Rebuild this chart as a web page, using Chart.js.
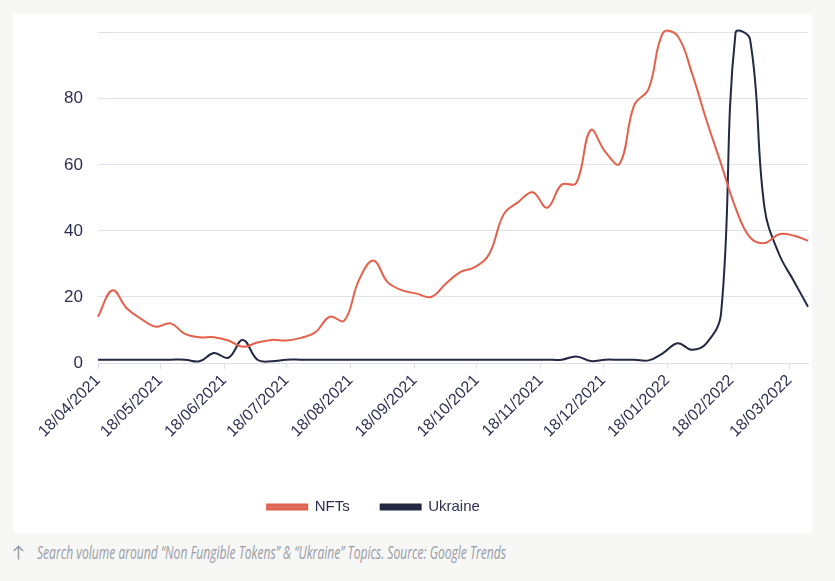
<!DOCTYPE html>
<html>
<head>
<meta charset="utf-8">
<script src="https://cdn.jsdelivr.net/npm/chart.js@4/dist/chart.umd.min.js"></script>
<style>
  html, body { margin: 0; padding: 0; }
  body { width: 835px; height: 581px; background: #f7f7f5; position: relative; overflow: hidden; }
  #card { position: absolute; left: 13px; top: 14px; width: 799px; height: 519px; background: #ffffff; }
  #card canvas { display: block; }
  #arrow { position: absolute; left: 13px; top: 545px; }
  #cap { position: absolute; left: 37px; top: 540px; font-family: "Open Sans", sans-serif; font-style: italic;
         font-size: 18.5px; color: #979ca7; white-space: nowrap; transform-origin: 0 50%; line-height: 24px; }
</style>
</head>
<body>
<div id="card"><canvas id="c" width="799" height="519"></canvas></div>
<svg id="arrow" width="11" height="15" viewBox="0 0 11 15">
  <path d="M5.5 14.5 V1.3 M0.8 6 L5.5 1.3 L10.2 6" fill="none" stroke="#979ca7" stroke-width="1.5"/>
</svg>
<div id="cap">Search volume around “Non Fungible Tokens” &amp; “Ukraine” Topics. Source: Google Trends</div>
<script>
// ---- data (weekly Google Trends values, weeks starting 18/04/2021) ----
const startDate = '18/04/2021';
const seriesNames = ['NFTs', 'Ukraine'];
const nfts = [14, 22, 16.5, 13.3, 11, 12, 8.8, 7.8, 7.8, 6.8,
              4.9, 6.2, 7, 6.8, 7.6, 9.3, 14, 12.8, 25, 31,
              24.4, 22, 21, 20, 24, 27.5, 29, 33, 45, 48.7,
              51.7, 47, 54, 54.4, 70.5, 64, 60.3, 78, 83, 100,
              99, 87.6, 73.4, 60.3, 47, 38, 36.3, 39, 38.6, 37];
const ukraine = [1, 1, 1, 1, 1, 1, 1, 0.5, 3, 1.6,
                 7, 1, 0.5, 1, 1, 1, 1, 1, 1, 1,
                 1, 1, 1, 1, 1, 1, 1, 1, 1, 1,
                 1, 1, 1, 2, 0.6, 1, 1, 1, 0.8, 3,
                 6, 4, 6, 15, 100, 98, 47, 33, 25, 17];
const tickLabels = ['18/04/2021', '18/05/2021', '18/06/2021', '18/07/2021', '18/08/2021', '18/09/2021',
                    '18/10/2021', '18/11/2021', '18/12/2021', '18/01/2022', '18/02/2022', '18/03/2022'];
const yTicks = [0, 20, 40, 60, 80, 100];

// ---- helpers ----
function parseDay(s) { const [d, m, y] = s.split('/').map(Number); return Date.UTC(y, m - 1, d) / 86400000; }
const day0 = parseDay(startDate);
const tickDays = tickLabels.map(l => parseDay(l) - day0);
const labelByDay = {}; tickDays.forEach((d, i) => labelByDay[d] = tickLabels[i]);
const toPoints = arr => arr.map((v, i) => ({ x: i * 7, y: v }));

const NAVY = '#232843';
const TICK = '#2b3050';
const GRID = '#e0e2eb';

const legendShift = {
  id: 'legendShift',
  afterLayout(chart) {
    const l = chart.legend; if (!l) return;
    const dx = -37, dy = -8.5;
    l.left += dx; l.right += dx; l.top += dy; l.bottom += dy;
  }
};

new Chart(document.getElementById('c'), {
  type: 'line',
  data: {
    datasets: [
      { label: seriesNames[0], data: toPoints(nfts), borderColor: '#e4604a', backgroundColor: '#d96f5e',
        borderWidth: 2, pointRadius: 0, tension: 0.4, clip: false },
      { label: seriesNames[1], data: toPoints(ukraine), borderColor: NAVY, backgroundColor: NAVY,
        borderWidth: 2, pointRadius: 0, tension: 0.4, clip: false }
    ]
  },
  options: {
    responsive: false,
    animation: false,
    elements: { line: { capBezierPoints: false } },
    layout: { padding: { top: 18.7, right: 4, bottom: 0, left: 0 } },
    plugins: {
      tooltip: { enabled: false },
      legend: {
        position: 'bottom',
        labels: { boxWidth: 40, boxHeight: 5, padding: 31, color: TICK,
                  font: { family: '"Liberation Sans", Arial, sans-serif', size: 15 } }
      }
    },
    scales: {
      x: {
        type: 'linear', min: 0, max: (nfts.length - 1) * 7,
        afterBuildTicks: s => { s.ticks = tickDays.map(v => ({ value: v })); },
        afterFit: s => { s.height = 114; },
        ticks: { autoSkip: false, minRotation: 45, maxRotation: 45, padding: 2, color: TICK,
                 font: { family: '"Liberation Sans", Arial, sans-serif', size: 16 },
                 callback: v => labelByDay[v] ?? '' },
        grid: { drawOnChartArea: false, drawTicks: true, tickLength: 6, color: '#dcdfe8' },
        border: { display: true, color: '#dcdfe8' }
      },
      y: {
        min: 0, max: 100,
        afterBuildTicks: s => { s.ticks = yTicks.map(v => ({ value: v })); },
        afterFit: s => { s.width = 85; s.paddingTop = 0; s.paddingBottom = 0; },
        ticks: { padding: 15, color: TICK, font: { family: '"Liberation Sans", Arial, sans-serif', size: 17 },
                 callback: v => (v === 100 ? '' : v) },
        grid: { color: GRID, drawTicks: false },
        border: { display: false }
      }
    }
  },
  plugins: [legendShift]
});

// condense caption to the reference width
const cap = document.getElementById('cap');
const w = cap.getBoundingClientRect().width;
cap.style.transform = 'scaleX(' + (469 / w) + ')';
</script>
</body>
</html>
